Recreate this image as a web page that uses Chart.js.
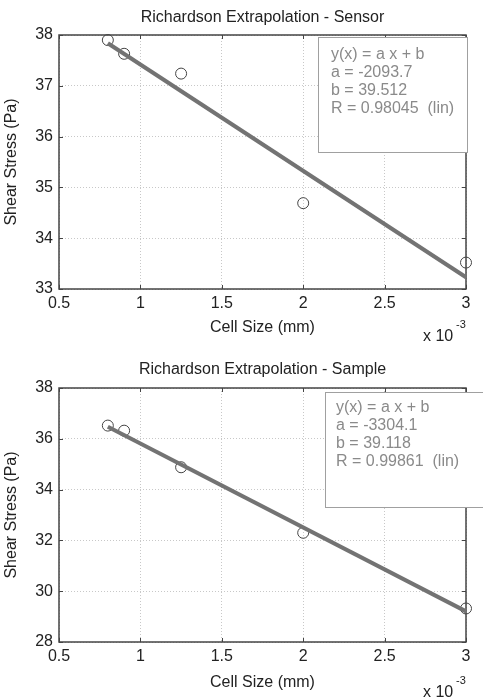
<!DOCTYPE html>
<html>
<head>
<meta charset="utf-8">
<script src="https://cdn.jsdelivr.net/npm/chart.js@4/dist/chart.umd.min.js"></script>
<style>
  body { margin: 0; background: #fff; }
  .wrap { position: relative; width: 483px; height: 350px; }
</style>
</head>
<body>
<div class="wrap"><canvas id="sensorChart"></canvas></div>
<div class="wrap"><canvas id="sampleChart"></canvas></div>
<script>
// data
const cellSize = [0.0008, 0.0009, 0.00125, 0.002, 0.003];
const sensorStress = [37.9, 37.63, 37.24, 34.69, 33.52];
const sampleStress = [36.52, 36.32, 34.88, 32.3, 29.32];

const fitX = [0.0008, 0.003];
const sensorFitY = [37.837, 33.231];
const sampleFitY = [36.475, 29.206];

const sensorFitText = ['y(x) = a x + b', 'a = -2093.7', 'b = 39.512', 'R = 0.98045  (lin)'];
const sampleFitText = ['y(x) = a x + b', 'a = -3304.1', 'b = 39.118', 'R = 0.99861  (lin)'];

const FONT = "'Liberation Sans', Arial, sans-serif";
Chart.defaults.font.family = FONT;
Chart.defaults.color = '#222';

function toXY(xs, ys) {
  return xs.map((x, i) => ({ x: x, y: ys[i] }));
}

// matlab style box with inward ticks, title over the axes, fit box
const framePlugin = {
  id: 'frame',
  beforeDatasetsDraw(chart) {
    const { ctx, chartArea: a, scales } = chart;
    ctx.save();
    ctx.strokeStyle = '#444';
    ctx.lineWidth = 1.5;
    ctx.strokeRect(a.left, a.top, a.right - a.left, a.bottom - a.top);
    ctx.lineWidth = 1;
    ctx.beginPath();
    scales.x.ticks.forEach(t => {
      const px = Math.round(scales.x.getPixelForValue(t.value)) + 0.5;
      ctx.moveTo(px, a.bottom); ctx.lineTo(px, a.bottom - 4);
      ctx.moveTo(px, a.top); ctx.lineTo(px, a.top + 4);
    });
    scales.y.ticks.forEach(t => {
      const py = Math.round(scales.y.getPixelForValue(t.value)) + 0.5;
      ctx.moveTo(a.left, py); ctx.lineTo(a.left + 4, py);
      ctx.moveTo(a.right, py); ctx.lineTo(a.right - 4, py);
    });
    ctx.stroke();
    ctx.restore();
  },
  afterDraw(chart, args, opts) {
    const { ctx, chartArea: a } = chart;
    ctx.save();
    // title centred on the axes
    ctx.fillStyle = '#222';
    ctx.font = '16px ' + FONT;
    ctx.textAlign = 'center';
    ctx.textBaseline = 'middle';
    ctx.fillText(opts.title, (a.left + a.right) / 2, opts.titleY);
    ctx.textAlign = 'left';
    // fit result box
    const b = opts.box;
    ctx.fillStyle = '#fff';
    ctx.fillRect(b.x, b.y, b.w, b.h);
    ctx.strokeStyle = '#a0a0a0';
    ctx.lineWidth = 1;
    ctx.strokeRect(b.x + 0.5, b.y + 0.5, b.w, b.h);
    ctx.fillStyle = '#8a8a8a';
    ctx.font = '16px ' + FONT;
    opts.lines.forEach((s, i) => ctx.fillText(s, b.tx, b.ty + i * b.dy));
    // exponent label
    ctx.fillStyle = '#222';
    ctx.font = '16px ' + FONT;
    ctx.fillText('x 10', 423, a.bottom + opts.expY);
    ctx.font = '11px ' + FONT;
    ctx.fillText('-3', 456, a.bottom + opts.expY - 12);
    ctx.restore();
  }
};

function makeChart(id, title, stress, fitY, yMin, yMax, yStep, lay) {
  const ctx = document.getElementById(id).getContext('2d');
  return new Chart(ctx, {
    type: 'scatter',
    data: {
      datasets: [{
        type: 'line',
        data: toXY(fitX, fitY),
        borderColor: '#737373',
        borderWidth: 4,
        pointRadius: 0,
        fill: false,
        clip: false
      }, {
        data: toXY(cellSize, stress),
        pointStyle: 'circle',
        pointRadius: 5.5,
        backgroundColor: 'rgba(0,0,0,0)',
        borderColor: '#444',
        borderWidth: 1,
        clip: false
      }]
    },
    options: {
      responsive: true,
      maintainAspectRatio: false,
      animation: false,
      layout: { padding: { left: 0, right: 17, top: lay.plotTop, bottom: 0 } },
      plugins: {
        legend: { display: false },
        tooltip: { enabled: false },
        title: { display: false },
        frame: {
          title: title,
          titleY: lay.titleY,
          box: lay.box,
          lines: lay.lines,
          expY: lay.expY
        }
      },
      scales: {
        x: {
          type: 'linear',
          min: 0.0005,
          max: 0.003,
          afterFit: s => { s.height = lay.xHeight; },
          afterBuildTicks: s => {
            s.ticks = [0.5, 1, 1.5, 2, 2.5, 3].map(v => ({ value: v / 1000 }));
          },
          ticks: {
            autoSkip: false,
            maxRotation: 0,
            padding: 5,
            font: { size: 16 },
            callback: v => String(Math.round(v * 10000) / 10)
          },
          grid: { color: '#c8c8c8', drawTicks: false },
          border: { display: false, dash: [1, 2] },
          title: {
            display: true,
            text: 'Cell Size (mm)',
            font: { size: 16 },
            padding: { top: 0, bottom: lay.xTitlePad }
          }
        },
        y: {
          min: yMin,
          max: yMax,
          afterFit: s => { s.width = 59; },
          ticks: {
            stepSize: yStep,
            padding: 6,
            font: { size: 16 }
          },
          grid: { color: '#c8c8c8', drawTicks: false },
          border: { display: false, dash: [1, 2] },
          title: {
            display: true,
            text: 'Shear Stress (Pa)',
            font: { size: 16 },
            padding: { top: 2.4, bottom: 0 }
          }
        }
      }
    },
    plugins: [framePlugin]
  });
}

makeChart('sensorChart', 'Richardson Extrapolation - Sensor', sensorStress, sensorFitY, 33, 38, 1, {
  plotTop: 35, titleY: 18,
  xHeight: 61, xTitlePad: 12.4, expY: 48,
  box: { x: 318, y: 37, w: 149, h: 115, tx: 331, ty: 55, dy: 17.7 },
  lines: sensorFitText
});

makeChart('sampleChart', 'Richardson Extrapolation - Sample', sampleStress, sampleFitY, 28, 38, 2, {
  plotTop: 38, titleY: 20,
  xHeight: 58, xTitlePad: 7.4, expY: 51,
  box: { x: 325, y: 42, w: 160, h: 115, tx: 336, ty: 58, dy: 18 },
  lines: sampleFitText
});
</script>
</body>
</html>
